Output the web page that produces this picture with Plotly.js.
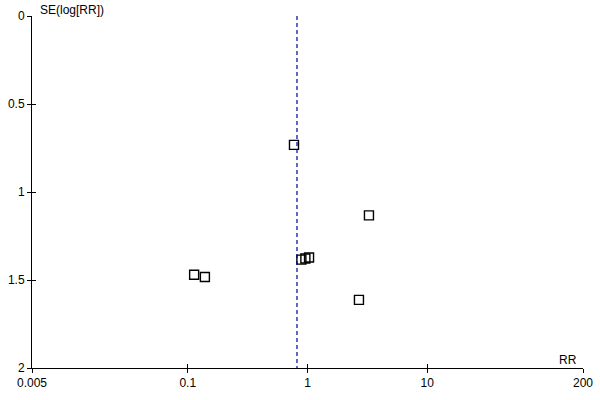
<!DOCTYPE html>
<html>
<head>
<meta charset="utf-8">
<script src="https://cdn.plot.ly/plotly-3.0.1.min.js"></script>
<style>html,body{margin:0;padding:0;background:#fff;}#chart{width:600px;height:400px;}</style>
</head>
<body>
<div id="chart"></div>
<script>
// Study estimates (relative risk) and standard errors of log(RR)
var rr = [0.771, 3.26, 0.889, 0.960, 1.03, 0.113, 0.139, 2.69];
var seLogRR = [0.732, 1.133, 1.384, 1.378, 1.372, 1.470, 1.483, 1.613];
var pooledRR = 0.817;
var xTickVals = [0.005, 0.1, 1, 10, 200];
var xTickText = ["0.005", "0.1", "1", "10", "200"];
var yTickVals = [0, 0.5, 1, 1.5, 2];
var yTickText = ["0", "0.5", "1", "1.5", "2"];

var font = {family: "Liberation Sans, Arial, sans-serif", size: 12, color: "#000"};
var xr = [Math.log10(0.005), Math.log10(200)];
var yr = [2, 0];

var traces = [
  {
    x: rr, y: seLogRR, type: "scatter", mode: "markers",
    marker: {symbol: "square-open", size: 9, color: "#000", line: {width: 1.4, color: "#000"}},
    hoverinfo: "skip", showlegend: false
  },
  {
    x: [pooledRR, pooledRR], y: [0, 2], type: "scatter", mode: "lines",
    line: {color: "#0000A0", width: 1.2, dash: "4px,3px"},
    hoverinfo: "skip", showlegend: false
  },
  {
    x: [], y: [], type: "scatter", mode: "markers", xaxis: "x2", yaxis: "y2",
    hoverinfo: "skip", showlegend: false
  }
];

var baseX = {
  type: "log", range: xr, tickvals: xTickVals, ticktext: xTickText,
  showgrid: false, zeroline: false, showline: true, linecolor: "#000", linewidth: 1,
  tickcolor: "#000", ticklen: 4, tickwidth: 1, tickfont: font, fixedrange: true
};
var baseY = {
  range: yr, tickvals: yTickVals, ticktext: yTickText,
  showgrid: false, zeroline: false, showline: true, linecolor: "#000", linewidth: 1,
  tickcolor: "#000", ticklen: 4, tickwidth: 1, tickfont: font, fixedrange: true
};

var layout = {
  width: 600, height: 400,
  margin: {l: 32, r: 17, t: 16, b: 32, pad: 0},
  paper_bgcolor: "#fff", plot_bgcolor: "#fff",
  font: font, showlegend: false,
  xaxis: Object.assign({}, baseX, {ticks: "outside"}),
  yaxis: Object.assign({}, baseY, {ticks: "outside"}),
  xaxis2: Object.assign({}, baseX, {ticks: "inside", overlaying: "x", anchor: "y", showticklabels: false}),
  yaxis2: Object.assign({}, baseY, {ticks: "inside", overlaying: "y", anchor: "x", showticklabels: false}),
  annotations: [
    {text: "SE(log[RR])", xref: "paper", yref: "paper", x: 0, y: 1, xanchor: "left", yanchor: "bottom",
     xshift: 6, yshift: -3, showarrow: false, font: font},
    {text: "RR", xref: "paper", yref: "paper", x: 1, y: 0, xanchor: "right", yanchor: "bottom",
     xshift: -4, yshift: -1, showarrow: false, font: font}
  ]
};

Plotly.newPlot("chart", traces, layout, {staticPlot: true, displayModeBar: false});
</script>
</body>
</html>
